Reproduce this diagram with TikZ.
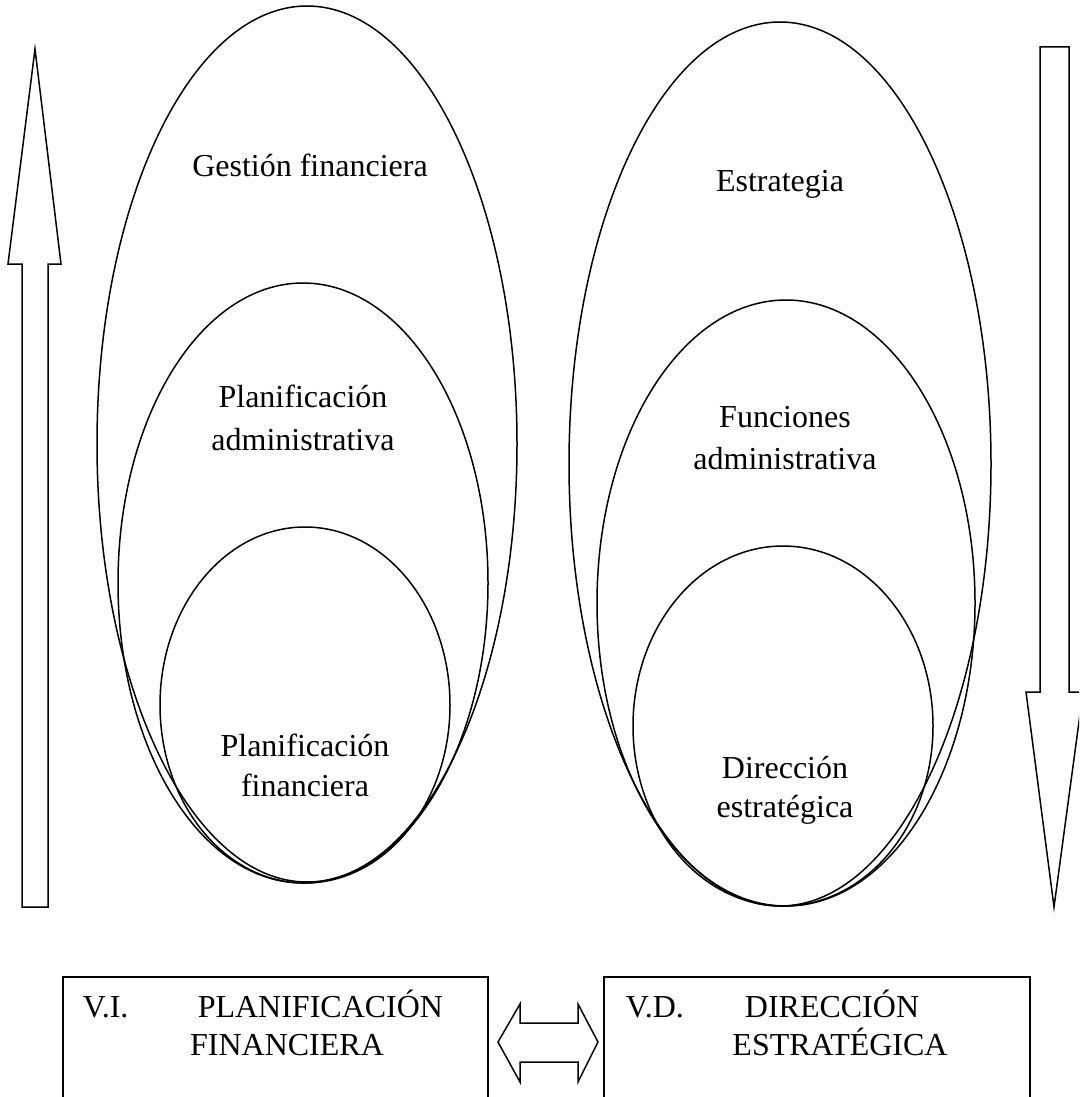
\documentclass[tikz,border=0pt]{standalone}
\usepackage{fontspec}
\setmainfont{Liberation Serif}
\usetikzlibrary{shapes.geometric}
\begin{document}
\begin{tikzpicture}[x=1pt,y=-1pt,line width=1.5pt,
  oval/.style={draw,ellipse,inner sep=0pt,outer sep=0pt},
  txt/.style={anchor=base,inner sep=0pt,font=\fontsize{32}{43}\selectfont},
  ltxt/.style={anchor=base west,inner sep=0pt,font=\fontsize{32}{43}\selectfont},
  blockarrow/.style={draw,line join=miter}]
\useasboundingbox (0,0) rectangle (1079,1097);
\clip (0,0) rectangle (1079,1097);

% left family of nested ovals
\node[oval,minimum width=420pt,minimum height=876pt] (gf) at (307,444) {};
\node[oval,minimum width=370pt,minimum height=600pt] (pa) at (303,583) {};
\node[oval,minimum width=290pt,minimum height=356pt] (pf) at (305,705) {};

% right family of nested ovals
\node[oval,minimum width=422pt,minimum height=884pt] (es) at (780,464) {};
\node[oval,minimum width=378pt,minimum height=606pt] (fa) at (786,603) {};
\node[oval,minimum width=300pt,minimum height=360pt] (de) at (783,726) {};

% labels inside the ovals
\node[txt] (gf1) at (310,176) {Gestión financiera};
\node[txt] (pa1) at (303,407) {Planificación};
\node[txt] (pa2) at (303,450) {administrativa};
\node[txt] (pf1) at (305,756) {Planificación};
\node[txt] (pf2) at (305,796) {financiera};
\node[txt] (es1) at (780,191) {Estrategia};
\node[txt] (fa1) at (785,427) {Funciones};
\node[txt] (fa2) at (785,469) {administrativa};
\node[txt] (de1) at (785,778) {Dirección};
\node[txt] (de2) at (785,817) {estratégica};

% upward block arrow on the left
\draw[blockarrow] (35,49) -- (61,264) -- (48,264) -- (48,907) -- (22,907)
  -- (22,264) -- (8,264) -- cycle;

% downward block arrow on the right
\draw[blockarrow] (1040,47) -- (1069,47) -- (1069,692) -- (1083,692)
  -- (1054,907) -- (1026,692) -- (1040,692) -- cycle;

% variable boxes
\draw (63,977) rectangle (488,1120);
\draw (604,977) rectangle (1030,1120);
\node[ltxt] (vi) at (82,1017) {V.I.};
\node[ltxt] (vi1) at (197,1017) {PLANIFICACIÓN};
\node[txt] (vi2) at (287,1055) {FINANCIERA};
\node[ltxt] (vd) at (625,1017) {V.D.};
\node[txt] (vd1) at (832,1017) {DIRECCIÓN};
\node[txt] (vd2) at (840,1055) {ESTRATÉGICA};

% two-headed block arrow between the boxes
\draw[blockarrow] (498,1042) -- (520,1004) -- (520,1023) -- (578,1023)
  -- (578,1004) -- (598,1042) -- (578,1082) -- (578,1062) -- (520,1062)
  -- (520,1082) -- cycle;
\end{tikzpicture}
\end{document}
